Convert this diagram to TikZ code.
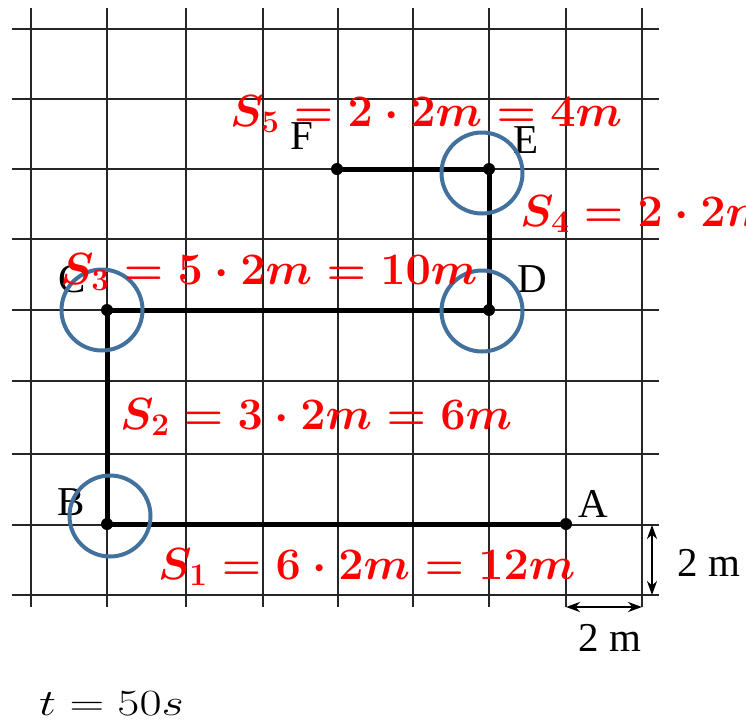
\RequirePackage{fix-cm}
\documentclass[tikz,border=0pt]{standalone}
\usepackage{fontspec}
\usepackage{graphicx}
\setmainfont{Liberation Serif}
\usetikzlibrary{arrows.meta}
\definecolor{ringblue}{RGB}{65,113,156}
\definecolor{lblred}{RGB}{255,0,0}
\begin{document}
\begin{tikzpicture}[x=1pt,y=-1pt,
  gridline/.style={line width=1.6pt, black!85},
  pathline/.style={line width=5pt, line cap=round},
  dot/.style={circle, fill=black, inner sep=0pt, minimum size=12pt},
  ring/.style={circle, draw=ringblue, line width=4pt, minimum size=81pt, inner sep=0pt},
  ptlabel/.style={font=\fontsize{41}{41}\selectfont, inner sep=0pt},
  slabel/.style={text=lblred, font=\fontsize{45}{45}\selectfont\boldmath, inner sep=0pt, anchor=base west},
  dimarrow/.style={line width=2.6pt, {Stealth[length=14pt,width=10pt]}-{Stealth[length=14pt,width=10pt]}},
]
\useasboundingbox (0,0) rectangle (746,721);
\begin{scope}
\clip (0,0) rectangle (746,721);
% grid
\foreach \gx in {31,107,186,263,338,413,489,566,642}
  \draw[gridline] (\gx,8) -- (\gx,607);
\foreach \gy in {29,99,169,239,310,381,454,525,595}
  \draw[gridline] (12,\gy) -- (659,\gy);
% points
\coordinate (A) at (566,524);
\coordinate (B) at (107,524);
\coordinate (C) at (107,310);
\coordinate (D) at (489,310);
\coordinate (E) at (489,169);
\coordinate (F) at (337,169);
\draw[pathline] (A) -- (B) -- (C) -- (D) -- (E) -- (F);
\foreach \p in {A,B,C,D,E,F} \node[dot] (dot\p) at (\p) {};
% point labels
\node[ptlabel] (lA) at (593,504) {A};
\node[ptlabel] (lB) at (71,502) {B};
\node[ptlabel] (lC) at (72,279) {C};
\node[ptlabel] (lD) at (532,279) {D};
\node[ptlabel] (lE) at (526,140) {E};
\node[ptlabel] (lF) at (302,136) {F};
% dimensions
\coordinate (h1) at (566,607);
\coordinate (h2) at (642,607);
\coordinate (v1) at (652,525);
\coordinate (v2) at (652,595);
\draw[dimarrow] (h1) -- (h2);
\draw[dimarrow] (v1) -- (v2);
\node[ptlabel] (dimH) at (610,638) {2 m};
\node[ptlabel] (dimV) at (709,563) {2 m};
% rings
\node[ring] (rB) at (110,516) {};
\node[ring] (rC) at (102,310) {};
\node[ring] (rD) at (482,311) {};
\node[ring] (rE) at (482,173) {};
% red labels
\node[slabel] (s5) at (230,126) {$S_5 = 2\cdot 2m = 4m$};
\node[slabel] (s4) at (520,226) {$S_4 = 2\cdot 2m = 4m$};
\node[slabel] (s3) at (60,284) {$S_3 = 5\cdot 2m = 10m$};
\node[slabel] (s2) at (120,429) {$S_2 = 3\cdot 2m = 6m$};
\node[slabel] (s1) at (158,579) {$S_1 = 6\cdot 2m = 12m$};
% time
\node[inner sep=0pt, anchor=base west, font=\fontsize{37}{37}\selectfont] (tlabel) at (39,715) {\scalebox{1.3}[1]{$t = 50s$}};
\end{scope}
\end{tikzpicture}
\end{document}
